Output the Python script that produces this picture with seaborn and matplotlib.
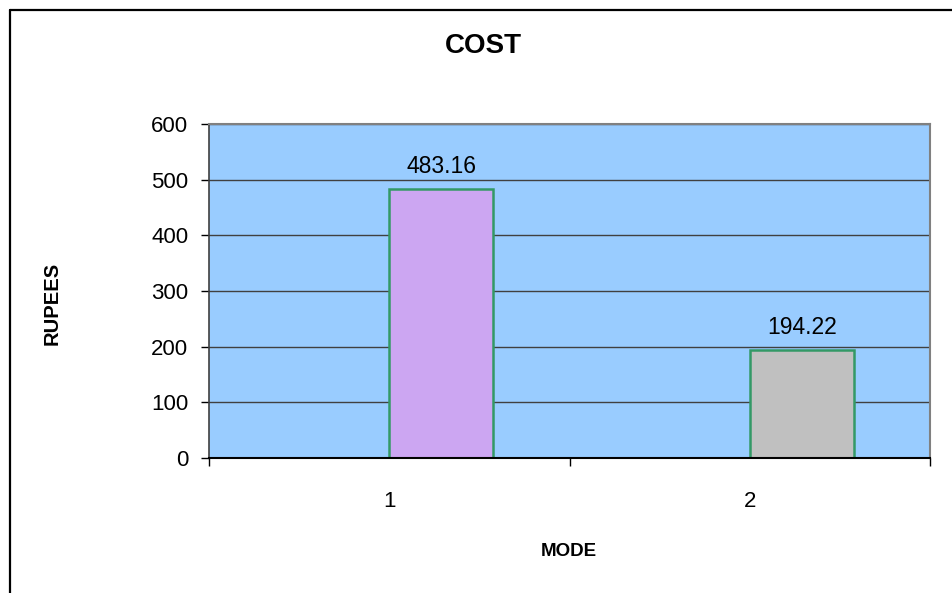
import matplotlib
matplotlib.use("Agg")
import matplotlib.pyplot as plt
from matplotlib.lines import Line2D
import seaborn as sns
import pandas as pd

# data
modes = ["1", "2"]
cost = [483.16, 194.22]
bar_colors = ["#CC99FF", "#C0C0C0"]

sns.set_style("white")
plt.rcParams["font.family"] = ["Liberation Sans", "DejaVu Sans"]
plt.rcParams["text.color"] = "black"
plt.rcParams["xtick.color"] = "black"
plt.rcParams["ytick.color"] = "black"

df = pd.DataFrame({"mode": modes, "cost": cost})

fig = plt.figure(figsize=(9.53, 5.93), dpi=100)
ax = fig.add_axes([209 / 953, 1 - 458 / 593, (930 - 209) / 953, (458 - 124) / 593])
ax.set_facecolor("#99CCFF")

bw = 0.288
sns.barplot(data=df, x="mode", y="cost", hue="mode", palette=bar_colors,
            width=bw, edgecolor="#339966", linewidth=1.8, legend=False, ax=ax)
# excel-style: bar starts at category centre
for p in ax.patches:
    p.set_x(p.get_x() + bw / 2)

for p, v in zip(ax.patches, cost):
    ax.annotate(f"{v:.2f}", (p.get_x() + p.get_width() / 2, v),
                xytext=(0, 8), textcoords="offset points",
                ha="center", va="bottom", fontsize=16.5)

ax.set_xlim(-0.5, 1.5)
ax.set_ylim(0, 600)
ax.set_yticks(range(0, 601, 100))
ax.yaxis.grid(True, color="#404040", linewidth=1.0)
ax.set_axisbelow(True)
ax.tick_params(axis="y", labelsize=16, length=6, width=1, direction="out", left=True, pad=9)
ax.tick_params(axis="x", which="major", labelsize=16, length=0, pad=24)
ax.set_xticks([-0.5, 0.5, 1.5], minor=True)
ax.tick_params(axis="x", which="minor", length=6, width=1, direction="out", bottom=True)

for s in ["top", "right"]:
    ax.spines[s].set_color("#808080")
    ax.spines[s].set_linewidth(1.5)
ax.spines["left"].set_color("#404040")
ax.spines["bottom"].set_color("black")
ax.spines["left"].set_linewidth(1.2)
ax.spines["bottom"].set_linewidth(1.5)

ax.set_xlabel("")
ax.set_ylabel("")

fig.text(483 / 953, 1 - 46 / 593, "COST", ha="center", va="center", fontsize=20, fontweight="bold")
fig.text(52 / 953, 1 - 303 / 593, "RUPEES", ha="center", va="center", rotation=90,
         fontsize=14.5, fontweight="bold")
fig.text(569 / 953, 1 - 551 / 593, "MODE", ha="center", va="center", fontsize=13.5, fontweight="bold")

# outer chart border (only left and top visible)
x0, y0 = 10 / 953, 1 - 10 / 593
fig.add_artist(Line2D([x0, x0], [0, y0], transform=fig.transFigure, color="black", linewidth=1.6))
fig.add_artist(Line2D([x0, 1], [y0, y0], transform=fig.transFigure, color="black", linewidth=1.6))

fig.savefig("out.png", dpi=100)
